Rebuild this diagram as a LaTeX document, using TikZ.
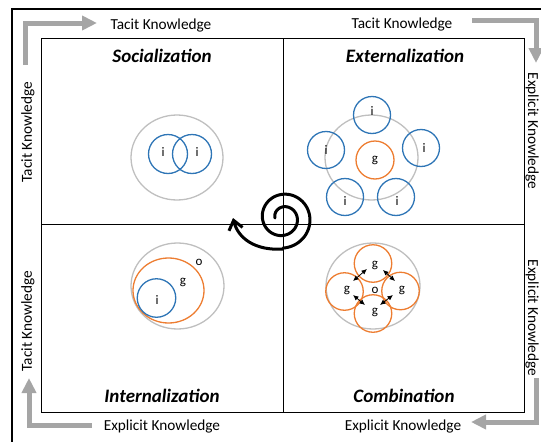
\documentclass[tikz,border=0pt]{standalone}
\usepackage{fontspec}
\setmainfont{Carlito}
\usetikzlibrary{arrows.meta,shapes.geometric}
\definecolor{cblue}{HTML}{2E75B6}
\definecolor{corange}{HTML}{ED7D31}
\definecolor{cgray}{HTML}{BFBFBF}
\definecolor{agray}{HTML}{A5A5A5}
\begin{document}
\begin{tikzpicture}[x=1pt,y=-1pt,
  bluec/.style={circle,draw=cblue,line width=1.3pt,minimum size=38pt,inner sep=0pt},
  orc/.style={circle,draw=corange,line width=1.3pt,minimum size=38pt,inner sep=0pt},
  orell/.style={ellipse,draw=corange,line width=1.3pt,inner sep=0pt},
  gell/.style={ellipse,draw=cgray,line width=1.3pt,inner sep=0pt},
  lbl/.style={font=\fontsize{13}{15}\selectfont,inner sep=0pt},
  title/.style={font=\fontsize{19}{22}\selectfont\bfseries\itshape,anchor=base},
  side/.style={font=\fontsize{15.3}{18}\selectfont},
  garrow/.style={draw=agray,line width=5pt,-{Triangle[length=15pt,width=14pt]}},
  biarrow/.style={line width=0.8pt,{Latex[length=5.5pt,width=5pt]}-{Latex[length=5.5pt,width=5pt]}},
  spiral/.style={line width=3pt,line cap=round,line join=round}
]
\useasboundingbox (0,0) rectangle (541,442);
% frames
\draw[line width=2pt] (541,9) -- (12,9) -- (12,442);
\draw[line width=1pt] (41,38) rectangle (524,412);
\draw[line width=1pt] (283,38) -- (283,412);
\draw[line width=1pt] (41,224) -- (524,224);

% side labels
\node[side,anchor=base] (tk1) at (161,29) {Tacit Knowledge};
\node[side,anchor=base] (tk2) at (402,28) {Tacit Knowledge};
\node[side,anchor=base] (ek1) at (162,430) {Explicit Knowledge};
\node[side,anchor=base] (ek2) at (403,430) {Explicit Knowledge};
\node[side,rotate=90] (tk3) at (28,132) {Tacit Knowledge};
\node[side,rotate=90] (tk4) at (28,321) {Tacit Knowledge};
\node[side,rotate=-90] (ek3) at (532,131) {Explicit Knowledge};
\node[side,rotate=-90] (ek4) at (532,318) {Explicit Knowledge};

% gray arrows
\coordinate (a1s) at (25,65); \coordinate (a1c) at (25,23); \coordinate (a1e) at (97,23);
\coordinate (a2s) at (472,20); \coordinate (a2c) at (536,20); \coordinate (a2e) at (536,63);
\coordinate (a3s) at (536,378); \coordinate (a3c) at (536,422); \coordinate (a3e) at (471,422);
\coordinate (a4s) at (92,425); \coordinate (a4c) at (29,425); \coordinate (a4e) at (29,378);
\draw[garrow] (a1s) -- (a1c) -- (a1e);
\draw[garrow] (a2s) -- (a2c) -- (a2e);
\draw[garrow] (a3s) -- (a3c) -- (a3e);
\draw[garrow] (a4s) -- (a4c) -- (a4e);

% titles
\node[title] (soc) at (162,62) {Socialization};
\node[title] (ext) at (405,62) {Externalization};
\node[title] (int) at (162,402) {Internalization};
\node[title] (com) at (404,402) {Combination};

% Socialization
\node[gell,minimum width=92pt,minimum height=85pt] (sg) at (177,157.5) {};
\node[bluec,minimum size=39pt] (s1) at (168,154) {};
\node[bluec,minimum size=39pt] (s2) at (192,154) {};
\node[lbl] (s1l) at (163,152) {i};
\node[lbl] (s2l) at (197,152) {i};

% Externalization
\node[gell,minimum width=93pt,minimum height=85pt] (eg) at (371.5,157.5) {};
\node[orc] (eo) at (375,160) {};
\node[lbl] (eol) at (375,160) {g};
\node[bluec,minimum size=37pt] (e1) at (372,115) {};
\node[bluec,minimum size=37pt] (e2) at (326,150) {};
\node[bluec,minimum size=37pt] (e3) at (421,148) {};
\node[bluec,minimum size=37pt] (e4) at (345,197) {};
\node[bluec,minimum size=37pt] (e5) at (396,197) {};
\node[lbl] (e1l) at (372,111) {i};
\node[lbl] (e2l) at (326,150) {i};
\node[lbl] (e3l) at (424,148) {i};
\node[lbl] (e4l) at (345,201) {i};
\node[lbl] (e5l) at (397,201) {i};

% Internalization
\node[gell,minimum width=93pt,minimum height=86pt] (ig) at (177.5,286) {};
\node[orell,minimum width=71pt,minimum height=65pt] (io) at (168.5,290.5) {};
\node[bluec,minimum size=38.5pt] (ib) at (156.5,298) {};
\node[lbl] (iol) at (199,262) {o};
\node[lbl] (igl) at (183,282) {g};
\node[lbl] (ibl) at (157,300) {i};

% Combination
\node[gell,minimum width=94pt,minimum height=86pt] (cg) at (373,286) {};
\node[orc,minimum size=37.5pt] (c1) at (373,263.5) {};
\node[orc,minimum size=37.5pt] (c2) at (344.5,291.5) {};
\node[orc,minimum size=37.5pt] (c3) at (400.5,291) {};
\node[orc,minimum size=37.5pt] (c4) at (373,313.5) {};
\node[lbl] (c1l) at (375,265) {g};
\node[lbl] (c2l) at (347,290) {g};
\node[lbl] (c3l) at (402,290) {g};
\node[lbl] (c4l) at (375,312) {g};
\node[lbl] (c0l) at (375,290) {o};
\coordinate (b1a) at (353,281); \coordinate (b1b) at (367,269);
\coordinate (b2a) at (383,270); \coordinate (b2b) at (395,281);
\coordinate (b3a) at (353,295); \coordinate (b3b) at (365,305);
\coordinate (b4a) at (380,305); \coordinate (b4b) at (393,295);
\draw[biarrow] (b1a) -- (b1b);
\draw[biarrow] (b2a) -- (b2b);
\draw[biarrow] (b3a) -- (b3b);
\draw[biarrow] (b4a) -- (b4b);

% spiral
\coordinate (spend) at (283,249);
\coordinate (sptip) at (233,218);
\draw[spiral] plot[domain=180:810,samples=140,smooth] ({283+(8+(\x-180)*0.035)*cos(\x)},{218+(8+(\x-180)*0.035)*sin(\x)});
\draw[spiral,-{Straight Barb[length=9pt,width=14pt]}] (spend) .. controls (255,251) and (238,238) .. (sptip);
\end{tikzpicture}
\end{document}
